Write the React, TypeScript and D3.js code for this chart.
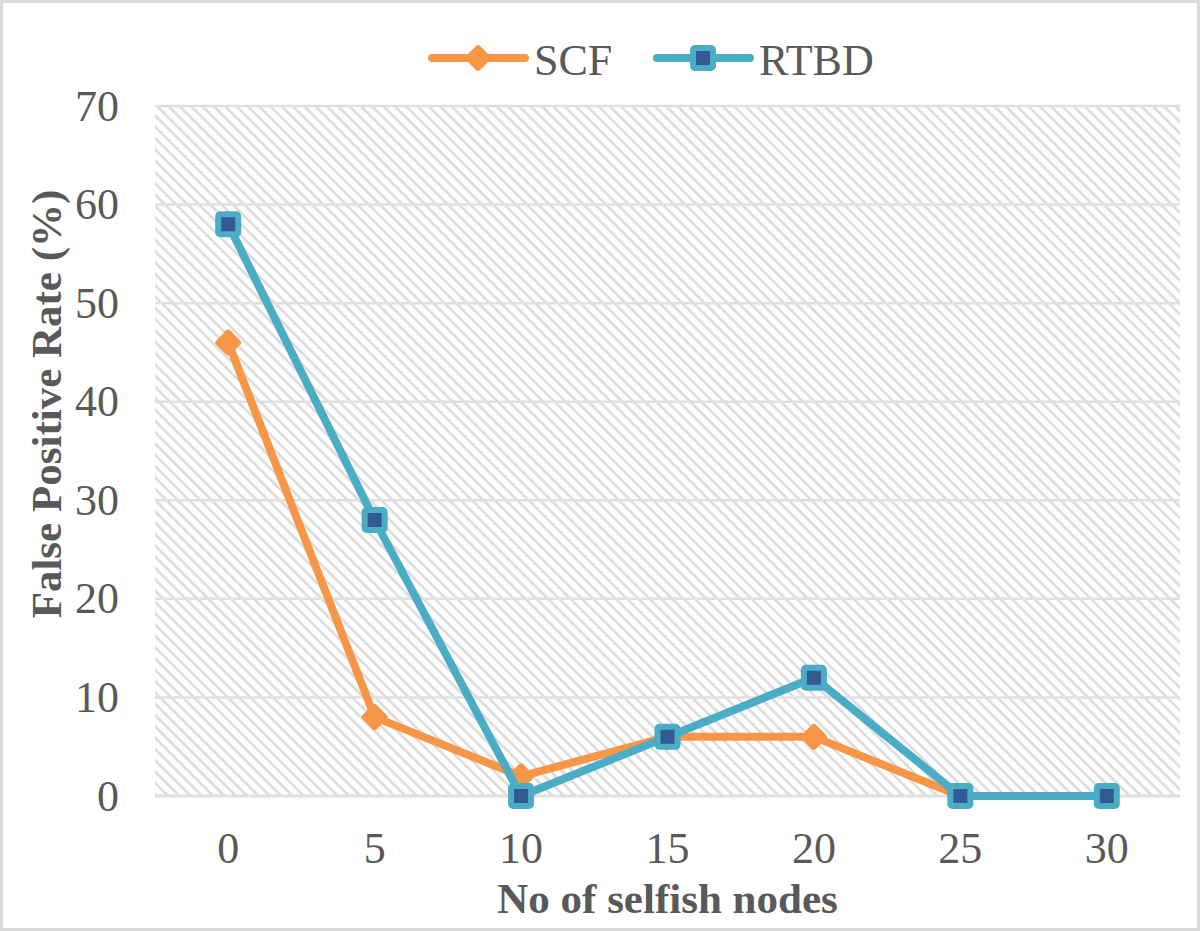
import { useEffect, useRef } from 'react';
import * as d3 from 'd3';

const categories = ['0', '5', '10', '15', '20', '25', '30'];
const scfValues = [46, 8, 2, 6, 6, 0, 0];
const rtbdValues = [58, 28, 0, 6, 12, 0, 0];
const yTicks = [0, 10, 20, 30, 40, 50, 60, 70];

const W = 1200;
const H = 931;

export default function App() {
  const svgRef = useRef<SVGSVGElement>(null);

  useEffect(() => {
    if (!svgRef.current) return;
    const svg = d3.select(svgRef.current);
    svg.selectAll('*').remove();

    const margin = { top: 106, right: 20, bottom: 135, left: 155 };
    const x = d3.scaleBand().domain(categories).range([margin.left, W - margin.right]);
    const y = d3.scaleLinear().domain([0, 70]).range([H - margin.bottom, margin.top]);
    const cx = (c: string) => (x(c) as number) + x.bandwidth() / 2;

    // outer frame
    svg.append('rect')
      .attr('x', 1.5).attr('y', 1.5)
      .attr('width', W - 3).attr('height', H - 3)
      .attr('fill', '#fff')
      .attr('stroke', '#d9d9d9')
      .attr('stroke-width', 3);

    // hatch pattern
    const defs = svg.append('defs');
    const pat = defs.append('pattern')
      .attr('id', 'hatch')
      .attr('patternUnits', 'userSpaceOnUse')
      .attr('width', 8).attr('height', 8)
      .attr('patternTransform', 'rotate(-45)');
    pat.append('rect').attr('width', 8).attr('height', 8).attr('fill', '#fff');
    pat.append('line')
      .attr('x1', 4).attr('y1', 0).attr('x2', 4).attr('y2', 8)
      .attr('stroke', '#dadada')
      .attr('stroke-width', 2.6);

    svg.append('rect')
      .attr('x', margin.left).attr('y', margin.top)
      .attr('width', W - margin.left - margin.right)
      .attr('height', H - margin.top - margin.bottom)
      .attr('fill', 'url(#hatch)');

    // gridlines
    svg.append('g')
      .selectAll('line')
      .data(yTicks)
      .join('line')
      .attr('x1', margin.left).attr('x2', W - margin.right)
      .attr('y1', d => y(d)).attr('y2', d => y(d))
      .attr('stroke', '#e0e0e0')
      .attr('stroke-width', d => (d === 0 ? 3 : 2.5));

    // y tick labels
    svg.append('g')
      .selectAll('text')
      .data(yTicks)
      .join('text')
      .attr('x', 119).attr('y', d => y(d))
      .attr('text-anchor', 'end')
      .attr('dominant-baseline', 'central')
      .attr('font-family', '"Liberation Serif", serif')
      .attr('font-size', 44)
      .attr('fill', '#595959')
      .text(d => d);

    // x tick labels
    svg.append('g')
      .selectAll('text')
      .data(categories)
      .join('text')
      .attr('x', d => cx(d)).attr('y', 848)
      .attr('text-anchor', 'middle')
      .attr('dominant-baseline', 'central')
      .attr('font-family', '"Liberation Serif", serif')
      .attr('font-size', 44)
      .attr('fill', '#595959')
      .text(d => d);

    // axis titles
    svg.append('text')
      .attr('x', (margin.left + W - margin.right) / 2).attr('y', 898)
      .attr('text-anchor', 'middle')
      .attr('dominant-baseline', 'central')
      .attr('font-family', '"Liberation Serif", serif')
      .attr('font-size', 43)
      .attr('font-weight', 'bold')
      .attr('fill', '#595959')
      .text('No of selfish nodes');

    svg.append('text')
      .attr('transform', 'translate(46, 404) rotate(-90)')
      .attr('text-anchor', 'middle')
      .attr('dominant-baseline', 'central')
      .attr('font-family', '"Liberation Serif", serif')
      .attr('font-size', 43)
      .attr('font-weight', 'bold')
      .attr('fill', '#595959')
      .text('False Positive Rate (%)');

    const line = d3.line<number>()
      .x((_, i) => cx(categories[i]))
      .y(d => y(d));

    const orange = '#f79646';
    const blue = '#4bacc6';
    const navy = '#345a93';

    const diamond = (g: d3.Selection<any, any, any, any>, px: number, py: number) =>
      g.append('rect')
        .attr('x', -9).attr('y', -9).attr('width', 18).attr('height', 18)
        .attr('rx', 2)
        .attr('transform', `translate(${px},${py}) rotate(45)`)
        .attr('fill', orange)
        .attr('stroke', orange)
        .attr('stroke-width', 2);

    const square = (g: d3.Selection<any, any, any, any>, px: number, py: number) =>
      g.append('rect')
        .attr('x', px - 10).attr('y', py - 10).attr('width', 20).attr('height', 20)
        .attr('rx', 2)
        .attr('fill', navy)
        .attr('stroke', blue)
        .attr('stroke-width', 6);

    // SCF
    const gs = svg.append('g');
    gs.append('path')
      .datum(scfValues)
      .attr('d', line)
      .attr('fill', 'none')
      .attr('stroke', orange)
      .attr('stroke-width', 8)
      .attr('stroke-linejoin', 'round')
      .attr('stroke-linecap', 'round');
    scfValues.forEach((v, i) => diamond(gs, cx(categories[i]), y(v)));

    // RTBD
    const gr = svg.append('g');
    gr.append('path')
      .datum(rtbdValues)
      .attr('d', line)
      .attr('fill', 'none')
      .attr('stroke', blue)
      .attr('stroke-width', 8)
      .attr('stroke-linejoin', 'round')
      .attr('stroke-linecap', 'round');
    rtbdValues.forEach((v, i) => square(gr, cx(categories[i]), y(v)));

    // legend
    const lg = svg.append('g');
    const ly = 58;
    lg.append('line')
      .attr('x1', 432).attr('x2', 525).attr('y1', ly).attr('y2', ly)
      .attr('stroke', orange).attr('stroke-width', 8).attr('stroke-linecap', 'round');
    diamond(lg, 478, ly);
    lg.append('text')
      .attr('x', 534).attr('y', ly + 2)
      .attr('dominant-baseline', 'central')
      .attr('font-family', '"Liberation Serif", serif')
      .attr('font-size', 44)
      .attr('fill', '#595959')
      .text('SCF');
    lg.append('line')
      .attr('x1', 657).attr('x2', 750).attr('y1', ly).attr('y2', ly)
      .attr('stroke', blue).attr('stroke-width', 8).attr('stroke-linecap', 'round');
    square(lg, 703, ly);
    lg.append('text')
      .attr('x', 759).attr('y', ly + 2)
      .attr('dominant-baseline', 'central')
      .attr('font-family', '"Liberation Serif", serif')
      .attr('font-size', 44)
      .attr('fill', '#595959')
      .text('RTBD');
  }, []);

  return (
    <svg
      ref={svgRef}
      width={W}
      height={H}
      style={{ position: 'absolute', left: 0, top: 0 }}
    />
  );
}
